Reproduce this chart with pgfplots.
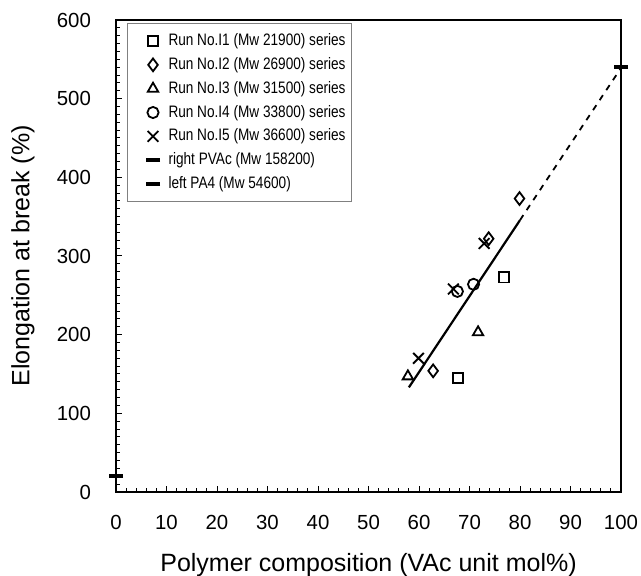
\documentclass[border=0pt]{standalone}
\usepackage{fontspec}
\setmainfont{Liberation Sans}
\newfontfamily\legfont{Liberation Sans}[FakeStretch=0.82]
\usepackage{pgfplots}
\pgfplotsset{compat=1.18}
\pgfplotsset{mk/.style={only marks, black, legend image code/.code={\path (0pt,0pt) (17pt,0pt); \draw[##1] plot coordinates {(11.5pt,0pt)};}}}
\begin{document}
\begin{tikzpicture}
\begin{axis}[
  name=ax,
  scale only axis,
  width=252.5pt, height=236pt,
  xmin=0, xmax=100, ymin=0, ymax=600,
  xtick={0,10,...,100}, ytick={0,100,...,600},
  minor x tick num=4, minor y tick num=9,
  xtick pos=left, ytick pos=left,
  tick align=inside,
  major tick length=3pt, minor tick length=2pt,
  tick style={black, line width=0.5pt},
  axis line style={line width=1pt},
  /pgf/number format/assume math mode=true,
  tick label style={font=\fontsize{10.2}{12}\selectfont},
  xticklabel style={yshift=-8pt},
  yticklabel style={xshift=-9pt},
  label style={font=\fontsize{12.5}{15}\selectfont},
  xlabel={Polymer composition (VAc unit mol\%)},
  ylabel={Elongation at break (\%)},
  xlabel style={at={(axis description cs:0.5,-0.1547)}, anchor=center},
  ylabel style={at={(axis description cs:-0.1842,0.5)}, anchor=center},
  clip=false,
  legend style={at={(0.0218,0.9936)}, anchor=north west, draw=gray, line width=0.5pt,
    font=\legfont\fontsize{8.3}{9.5}\selectfont, row sep=0.4pt, inner xsep=1pt, inner ysep=3pt},
  legend cell align=left,
]
\addplot[mk, mark=square, mark size=2.6pt, mark options={line width=0.9pt}] coordinates {(67.7,145) (76.8,273)};
\addlegendentry{Run No.I1 (Mw 21900) series}
\addplot[mk, mark=diamond, mark size=3.2pt, mark options={line width=0.9pt}] coordinates {(62.8,154) (73.8,322) (79.9,373)};
\addlegendentry{Run No.I2 (Mw 26900) series}
\addplot[mk, mark=triangle, mark size=3pt, mark options={line width=0.9pt}] coordinates {(57.8,147) (71.7,203)};
\addlegendentry{Run No.I3 (Mw 31500) series}
\addplot[mk, mark=o, mark size=2.8pt, mark options={line width=0.9pt}] coordinates {(67.6,255) (70.8,264)};
\addlegendentry{Run No.I4 (Mw 33800) series}
\addplot[mk, mark=x, mark size=3.8pt, mark options={line width=0.9pt}] coordinates {(59.9,170) (66.8,258) (72.9,316)};
\addlegendentry{Run No.I5 (Mw 36600) series}
\addplot[mk, mark=-, mark size=3.5pt, mark options={line width=2pt}] coordinates {(100,540)};
\addlegendentry{right PVAc (Mw 158200)}
\addplot[mk, mark=-, mark size=3.5pt, mark options={line width=2pt}] coordinates {(0,20)};
\addlegendentry{left PA4 (Mw 54600)}
\addplot[black, line width=1.1pt, forget plot] coordinates {(58,133) (80,345.6)};
\addplot[black, line width=0.9pt, dashed, forget plot] coordinates {(80,345.6) (100,539)};
\end{axis}
\pgfresetboundingbox
\path ([xshift=-58pt,yshift=-42pt]ax.south west) rectangle ([xshift=10pt,yshift=10pt]ax.north east);
\end{tikzpicture}
\end{document}
